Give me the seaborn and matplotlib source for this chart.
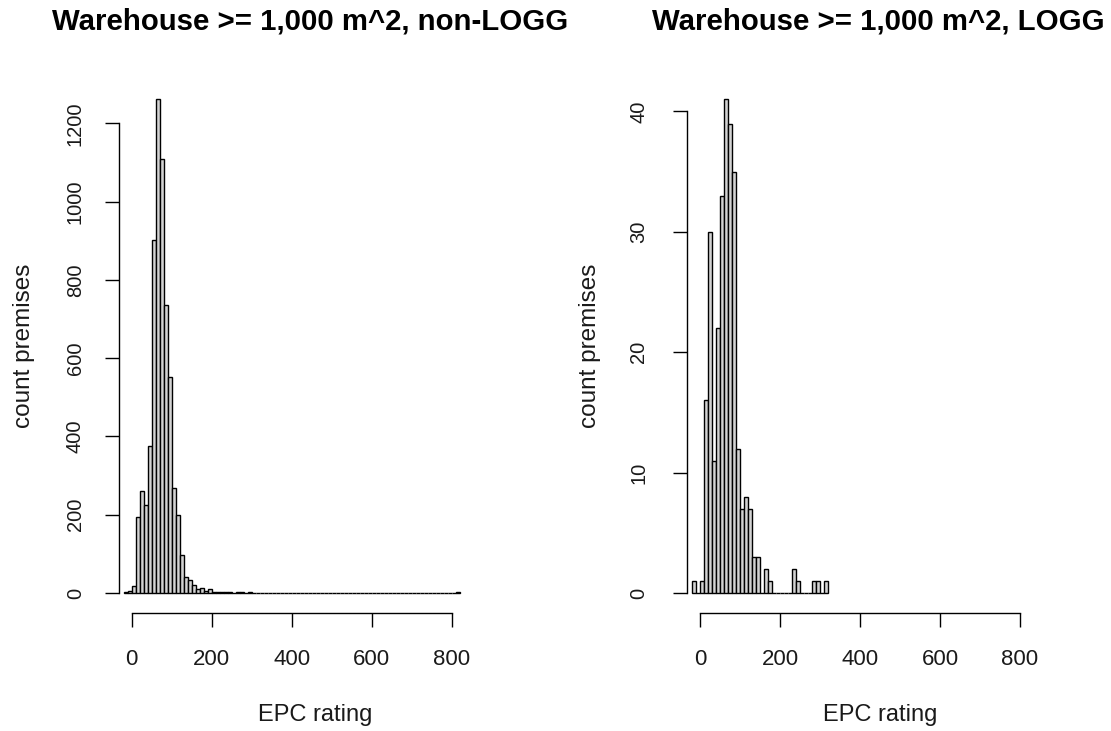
import numpy as np
import pandas as pd
import matplotlib
matplotlib.use("Agg")
import matplotlib.pyplot as plt
import seaborn as sns

# ---- data (counts per 10-unit EPC bin) ----
left_bin_start = -20
left_counts = [2, 4, 17, 195, 261, 225, 376, 902, 1261, 1108, 737, 553, 269, 199, 97, 40,
               33, 21, 11, 13, 6, 9,
               3, 2, 3, 2, 2, 1, 2, 2, 1, 2,          # 200-290
               0, 0, 0, 0, 0, 0, 0, 1, 1,             # 300-380
               0, 0, 0, 0, 1,                         # 390-430
               0, 0, 0, 0, 0, 0, 0, 0, 1,             # 440-510
               0, 0, 0, 0, 0, 1,                      # 520-570
               0, 0, 0, 0, 0, 0, 0, 0, 0, 0, 0,       # 580-680
               0, 0, 0, 0, 0, 0, 0, 0, 0, 0, 0,       # 690-790
               2]                                     # 800
right_bin_start = -20
right_counts = [1, 0, 1, 16, 30, 11, 22, 33, 41, 39, 35, 12, 7, 8, 7, 3, 3, 0, 2, 1,
                0, 0, 0, 0, 0, 2, 1, 0, 0, 0, 1, 1, 0, 1]
bin_width = 10

titles = ["Warehouse >= 1,000 m^2, non-LOGG", "Warehouse >= 1,000 m^2, LOGG"]
x_label = "EPC rating"
y_label = "count premises"
x_ticks = [0, 200, 400, 600, 800]
left_y_ticks = [0, 200, 400, 600, 800, 1000, 1200]
right_y_ticks = [0, 10, 20, 30, 40]

sns.set_theme(style="white")
plt.rcParams['font.family'] = ['Liberation Sans', 'DejaVu Sans']

W, H = 1111, 731
fig = plt.figure(figsize=(W / 100, H / 100), dpi=100)
fig.patch.set_facecolor("white")


def fx(px):
    return px / W


def fy(py):
    return 1 - py / H


# (bin start, counts, y ticks, axes left px, title, title x px, ylabel x px, xlabel x px, ytick pad)
panels = [
    (left_bin_start, left_counts, left_y_ticks, 118.9, titles[0], 52, 24, 315, 14.5),
    (right_bin_start, right_counts, right_y_ticks, 687.2, titles[1], 652, 590, 880, 18),
]

for start, counts, yt, x0, title, tx, ylx, xlx, ypad in panels:
    counts = np.asarray(counts, dtype=float)
    nb = len(counts)
    centers = start + bin_width * (np.arange(nb) + 0.5)
    df = pd.DataFrame({"epc": centers, "n": counts})
    ax = fig.add_axes([fx(x0), fy(612.7), fx(345.6), 533 / H])
    sns.histplot(data=df, x="epc", weights="n", binwidth=bin_width,
                 binrange=(start, start + bin_width * nb), ax=ax,
                 color="#D3D3D3", alpha=1.0, edgecolor="black", linewidth=1.0,
                 element="bars", fill=True)
    mx = counts.max()
    ax.set_xlim(-32, 832)
    ax.set_ylim(-0.04 * mx, 1.04 * mx)
    ax.set_xticks(x_ticks)
    ax.set_yticks(yt)
    ax.set_xticklabels([str(v) for v in x_ticks], fontsize=16)
    ax.set_yticklabels([str(v) for v in yt], fontsize=14.5, rotation=90, va="center")
    ax.set_xlabel("")
    ax.set_ylabel("")
    for s in ["top", "right"]:
        ax.spines[s].set_visible(False)
    for s in ["left", "bottom"]:
        ax.spines[s].set_color("black")
        ax.spines[s].set_linewidth(1.0)
    ax.spines["left"].set_bounds(yt[0], yt[-1])
    ax.spines["bottom"].set_bounds(x_ticks[0], x_ticks[-1])
    ax.tick_params(axis="both", which="both", direction="out", length=10, width=1.0,
                   color="black", labelcolor="#1a1a1a", bottom=True, left=True)
    ax.tick_params(axis="x", pad=16)
    ax.tick_params(axis="y", pad=ypad)
    ax.grid(False)
    ax.set_facecolor("white")
    fig.text(fx(tx), fy(22), title, ha="left", va="center", fontsize=21.2,
             fontweight="bold", color="black")
    fig.text(fx(xlx), fy(715), x_label, ha="center", va="center",
             fontsize=17, color="#1a1a1a")
    fig.text(fx(ylx), fy(346), y_label, ha="center", va="center", rotation=90,
             fontsize=17.5, color="#1a1a1a")

fig.savefig("out.png", dpi=100, facecolor="white")
